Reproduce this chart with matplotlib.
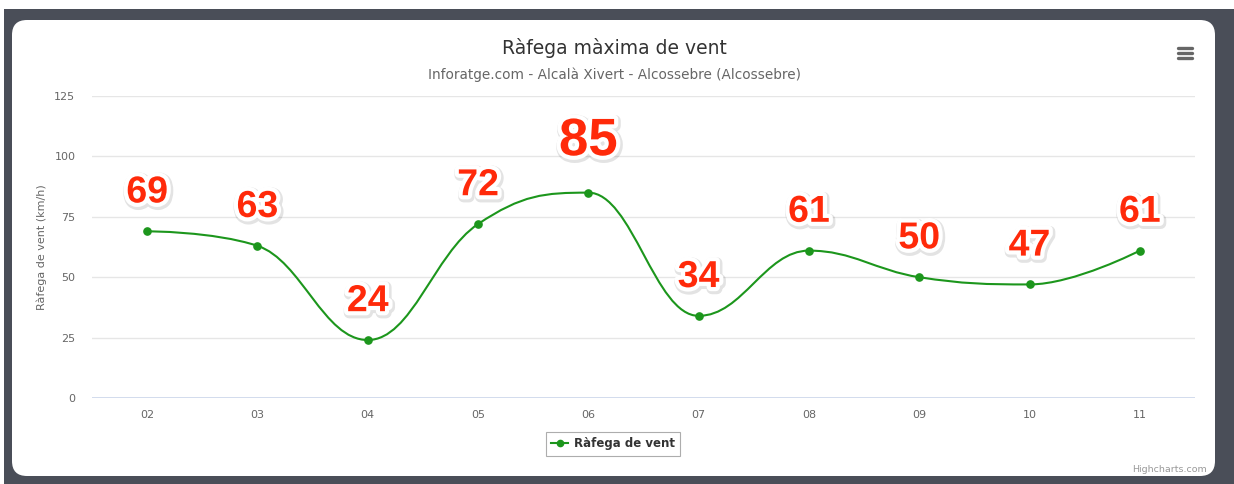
import matplotlib
matplotlib.use("Agg")
import matplotlib.pyplot as plt
import matplotlib.patheffects as pe
from matplotlib.path import Path
from matplotlib.patches import PathPatch, FancyBboxPatch, Rectangle
from matplotlib.lines import Line2D

# ---- data ----
categories = ["02", "03", "04", "05", "06", "07", "08", "09", "10", "11"]
values = [69, 63, 24, 72, 85, 34, 61, 50, 47, 61]
y_ticks = [0, 25, 50, 75, 100, 125]
title = "Ràfega màxima de vent"
subtitle = "Inforatge.com - Alcalà Xivert - Alcossebre (Alcossebre)"
series_name = "Ràfega de vent"
y_label = "Ràfega de vent (km/h)"

W, H = 1234, 484
fig = plt.figure(figsize=(W / 100, H / 100), dpi=100)
fig.patch.set_facecolor("white")

# overlay axes in pixel coords for decorations
ov = fig.add_axes([0, 0, 1, 1])
ov.set_xlim(0, W)
ov.set_ylim(H, 0)
ov.axis("off")
ov.add_patch(Rectangle((4, 9), W - 4, H - 9, facecolor="#4a4e58", edgecolor="none"))
ov.add_patch(FancyBboxPatch((12 + 15, 20 + 15), 1203 - 30, 456 - 30,
                            boxstyle="round,pad=15", facecolor="white", edgecolor="none"))
# menu icon
for yy in (47.5, 52.5, 57.5):
    ov.plot([1178, 1192], [yy, yy], color="#666666", lw=2.4, solid_capstyle="round")
ov.text(1207, 469, "Highcharts.com", ha="right", va="center", fontsize=6.8, color="#999999",
        family="DejaVu Sans")
ov.text(614, 48, title, ha="center", va="center", fontsize=13.5, color="#333333", family="DejaVu Sans")
ov.text(614, 75, subtitle, ha="center", va="center", fontsize=9.8, color="#666666", family="DejaVu Sans")
ov.text(42, 247, y_label, ha="center", va="center", rotation=90, fontsize=8, color="#666666",
        family="DejaVu Sans")

# main axes
left, right, top, bottom = 92, 1195, 96, 398
ax = fig.add_axes([left / W, 1 - bottom / H, (right - left) / W, (bottom - top) / H])
ax.set_facecolor("none")
n = len(values)
xs = list(range(n))
ax.set_xlim(-0.5, n - 0.5)
ax.set_ylim(0, 125)
ax.set_yticks(y_ticks)
ax.set_xticks(xs)
ax.set_xticklabels(categories)
for s in ax.spines.values():
    s.set_visible(False)
ax.tick_params(axis="both", length=0, labelsize=8, labelcolor="#666666")
ax.tick_params(axis="y", pad=12)
ax.tick_params(axis="x", pad=9)
ax.grid(axis="y", color="#e6e6e6", lw=1)
ax.set_axisbelow(True)
ax.axhline(0, color="#ccd6eb", lw=1.2, zorder=1)

# Highcharts spline
smoothing = 1.5
denom = smoothing + 1
rc = [None] * n
lc = [None] * n
for i in range(n):
    px, py = xs[i], values[i]
    if 0 < i < n - 1:
        lx, ly = xs[i - 1], values[i - 1]
        nx, ny = xs[i + 1], values[i + 1]
        lcx = (smoothing * px + lx) / denom
        lcy = (smoothing * py + ly) / denom
        rcx = (smoothing * px + nx) / denom
        rcy = (smoothing * py + ny) / denom
        corr = 0
        if rcx != lcx:
            corr = (rcy - lcy) * (rcx - px) / (rcx - lcx) + py - rcy
        lcy += corr
        rcy += corr
        if lcy > ly and lcy > py:
            lcy = max(ly, py); rcy = 2 * py - lcy
        elif lcy < ly and lcy < py:
            lcy = min(ly, py); rcy = 2 * py - lcy
        if rcy > ny and rcy > py:
            rcy = max(ny, py); lcy = 2 * py - rcy
        elif rcy < ny and rcy < py:
            rcy = min(ny, py); lcy = 2 * py - rcy
        lc[i] = (lcx, lcy)
        rc[i] = (rcx, rcy)
verts = [(xs[0], values[0])]
codes = [Path.MOVETO]
for i in range(1, n):
    c1 = rc[i - 1] if rc[i - 1] is not None else (xs[i - 1], values[i - 1])
    c2 = lc[i] if lc[i] is not None else (xs[i], values[i])
    verts += [c1, c2, (xs[i], values[i])]
    codes += [Path.CURVE4] * 3
green = "#1c961c"
ax.add_patch(PathPatch(Path(verts, codes), facecolor="none", edgecolor=green, lw=1.5, zorder=3))
ax.plot(xs, values, "o", color=green, ms=5.2, zorder=4, clip_on=False)

# data labels
vmax = max(values)
for x, v in zip(xs, values):
    big = v == vmax
    ax.annotate(str(v), (x, v), xytext=(0, 19 if big else 15), textcoords="offset points",
                ha="center", va="bottom", fontsize=38 if big else 27, fontweight="bold",
                family="Liberation Sans", color="#ff2a0a", zorder=6, annotation_clip=False,
                path_effects=[pe.Stroke(linewidth=8, foreground="#0000001c", offset=(0.8, -1.2)),
                              pe.Stroke(linewidth=6, foreground="white"), pe.Normal()])

# legend
proxy = Line2D([], [], color=green, lw=1.5, marker="o", ms=4.5)
leg = fig.legend(handles=[proxy], labels=[series_name], loc="center",
                 bbox_to_anchor=(613 / W, 1 - 444 / H), frameon=True, fancybox=False,
                 edgecolor="#999999", handlelength=1.4, handletextpad=0.5, borderpad=0.45,
                 prop={"family": "DejaVu Sans", "weight": "bold", "size": 8.5})
leg.get_frame().set_linewidth(0.8)
for t in leg.get_texts():
    t.set_color("#333333")

fig.savefig("out.png", dpi=100)
